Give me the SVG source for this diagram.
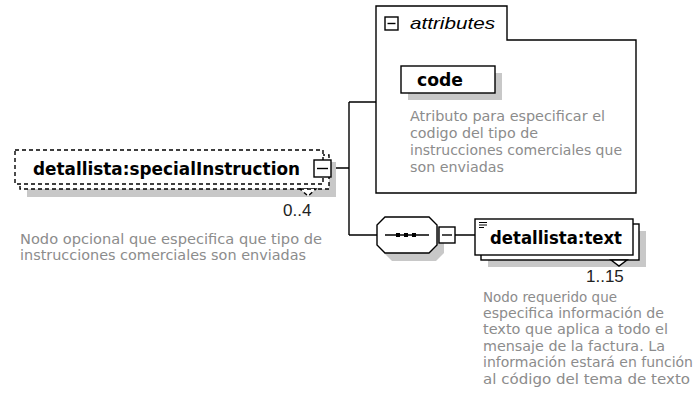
<svg xmlns="http://www.w3.org/2000/svg" width="700" height="412" viewBox="0 0 700 412">
<defs>
<style>
.ln{fill:none;stroke:#000;stroke-width:1.4}
.box{fill:#fff;stroke:#000;stroke-width:1.4}
.dash{fill:#fff;stroke:#000;stroke-width:1.4;stroke-dasharray:4 3}
.shd{fill:#c8c8c8;stroke:none}
.lbl{font-family:"DejaVu Sans",Verdana,sans-serif;font-weight:bold;font-size:17px;fill:#000}
.occ{font-family:"Liberation Sans",Arial,sans-serif;font-size:17px;fill:#222}
.doc{font-family:"DejaVu Sans",Verdana,sans-serif;font-size:13.5px;fill:#8c8c8c}
.att{font-family:"Liberation Sans",Arial,sans-serif;font-style:italic;font-size:17px;fill:#000}
</style>
</defs>
<g id="connectors">
<path class="ln" d="M331,168 H349 M349,102 V235 M349,102 H376 M349,235 H377 M455,235 H475"/>
</g>
<g id="specialInstruction">
<rect class="shd" x="27" y="162" width="309" height="35"/>
<rect class="dash" x="20" y="155" width="309" height="34"/>
<rect class="dash" x="15" y="150" width="308" height="34"/>
<polygon class="dash" points="300,189 316,189 308,196"/>
<text class="lbl" x="33" y="175" textLength="267" lengthAdjust="spacingAndGlyphs">detallista:specialInstruction</text>
<rect class="box" x="314" y="160" width="17" height="17"/>
<path class="ln" d="M317,168.5 H328"/>
<text class="occ" x="283" y="216">0..4</text>
<text class="doc" x="20" y="244" textLength="302" lengthAdjust="spacingAndGlyphs">Nodo opcional que especifica que tipo de</text>
<text class="doc" x="20" y="260" textLength="286" lengthAdjust="spacingAndGlyphs">instrucciones comerciales son enviadas</text>
</g>
<g id="attributes">
<path class="box" d="M376,6 H507 V40 H636 V193 H376 Z"/>
<rect class="box" x="385" y="17" width="13" height="13"/>
<path class="ln" d="M387.5,23.5 H395.5"/>
<text class="att" x="410" y="29" textLength="85" lengthAdjust="spacingAndGlyphs">attributes</text>
</g>
<g id="code">
<rect class="shd" x="408" y="73" width="94" height="27"/>
<rect class="box" x="401" y="66" width="94" height="27"/>
<text class="lbl" x="417" y="86" textLength="46" lengthAdjust="spacingAndGlyphs">code</text>
<text class="doc" x="410" y="121" textLength="195" lengthAdjust="spacingAndGlyphs">Atributo para especificar el</text>
<text class="doc" x="410" y="138" textLength="128" lengthAdjust="spacingAndGlyphs">codigo del tipo de</text>
<text class="doc" x="410" y="155" textLength="212" lengthAdjust="spacingAndGlyphs">instrucciones comerciales que</text>
<text class="doc" x="410" y="172" textLength="94" lengthAdjust="spacingAndGlyphs">son enviadas</text>
</g>
<g id="sequence">
<polygon class="shd" points="392,225 436,225 444,233 444,253 436,261 392,261 384,253 384,233"/>
<polygon class="box" points="385,217 429,217 437,225 437,245 429,253 385,253 377,245 377,225"/>
<path class="ln" d="M385,235 H429"/>
<rect x="396" y="233" width="4" height="4" fill="#000"/>
<rect x="404" y="233" width="4" height="4" fill="#000"/>
<rect x="412" y="233" width="4" height="4" fill="#000"/>
<rect class="box" x="439" y="227" width="16" height="16"/>
<path class="ln" d="M442,235 H452"/>
</g>
<g id="text">
<rect class="shd" x="488" y="231" width="158" height="36"/>
<rect class="box" x="481" y="224" width="158" height="36"/>
<rect class="box" x="475" y="219" width="158" height="36"/>
<polygon class="box" points="611,260 627,260 619,266"/>
<path d="M479,222.5 H487 M479,225 H487 M479,227.5 H484" stroke="#000" stroke-width="1"/>
<text class="lbl" x="490" y="244" textLength="132" lengthAdjust="spacingAndGlyphs">detallista:text</text>
<text class="occ" x="586" y="282">1..15</text>
<text class="doc" x="483" y="302" textLength="134" lengthAdjust="spacingAndGlyphs">Nodo requerido que</text>
<text class="doc" x="483" y="318" textLength="181" lengthAdjust="spacingAndGlyphs">especifica información de</text>
<text class="doc" x="483" y="334" textLength="185" lengthAdjust="spacingAndGlyphs">texto que aplica a todo el</text>
<text class="doc" x="483" y="351" textLength="182" lengthAdjust="spacingAndGlyphs">mensaje de la factura. La</text>
<text class="doc" x="483" y="367" textLength="210" lengthAdjust="spacingAndGlyphs">información estará en función</text>
<text class="doc" x="483" y="384" textLength="207" lengthAdjust="spacingAndGlyphs">al código del tema de texto</text>
</g>
</svg>
